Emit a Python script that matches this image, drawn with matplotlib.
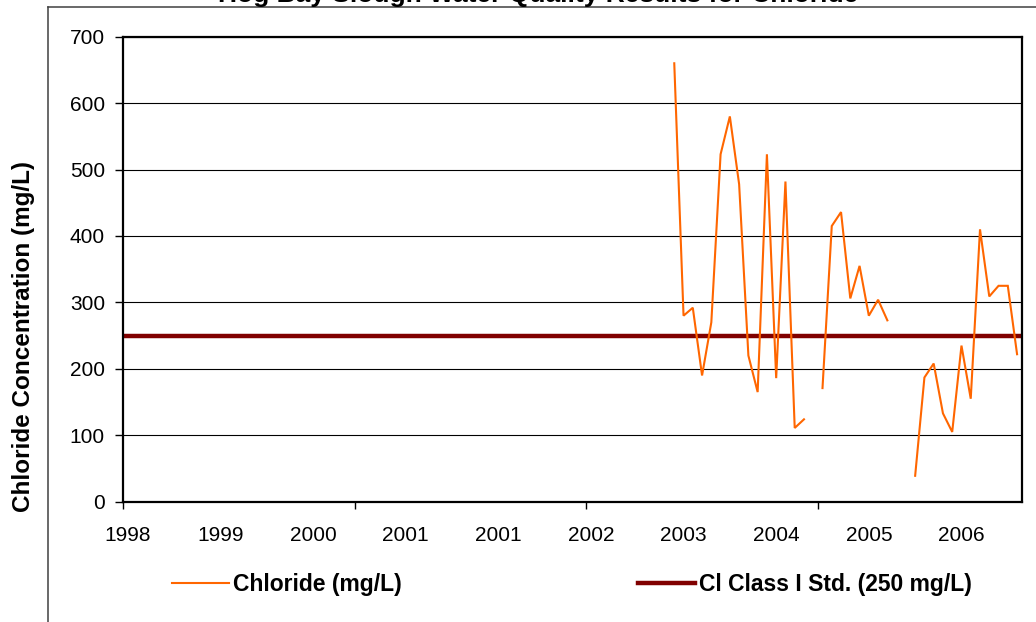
import numpy as np
import matplotlib
matplotlib.use("Agg")
import matplotlib.pyplot as plt
from matplotlib.lines import Line2D

plt.rcParams["font.family"] = ["Liberation Sans", "DejaVu Sans"]

# Sampling events on a category axis (one slot per event, 97 slots total)
n_categories = 97
first_sample = 59
chloride = [660, 280, 292, 190, 270, 523, 580, 478, 220, 165, 523, 186,
            482, 111, 124, None, 171, 415, 436, 306, 355, 280, 304, 273,
            None, None, 39, 187, 208, 133, 105, 235, 155, 410, 309, 325,
            325, 222]
class_i_std = 250

year_labels = ["1998", "1999", "2000", "2001", "2001", "2002", "2003",
               "2004", "2005", "2006"]
label_every = 10
tick_every = 25

chloride = np.array([np.nan if v is None else v for v in chloride], dtype=float)
sample_x = np.arange(first_sample, first_sample + len(chloride))

W, H = 1036, 622
fig = plt.figure(figsize=(W / 100, H / 100), dpi=100)
ax = fig.add_axes([123 / W, 1 - 501.7 / H, 898.7 / W, 465 / H])

ax.plot(sample_x, chloride, color="#FF6600", lw=1.5, label="Chloride (mg/L)",
        solid_joinstyle="miter", zorder=3)
ax.axhline(class_i_std, color="#800000", lw=3.2,
           label="Cl Class I Std. (250 mg/L)", zorder=2)

ax.set_xlim(-0.5, n_categories - 0.5)
ax.set_ylim(0, 700)
ax.set_yticks(np.arange(0, 701, 100))
ax.yaxis.grid(True, color="black", lw=0.8)
ax.set_axisbelow(True)

# year labels sit on every 10th category, tick marks fall between categories
ax.set_xticks(np.arange(len(year_labels)) * label_every)
ax.set_xticklabels(year_labels)
ax.set_xticks(np.arange(-0.5, n_categories, tick_every), minor=True)
ax.tick_params(axis="x", which="major", length=0, pad=17.5, labelsize=15)
ax.tick_params(axis="x", which="minor", length=5, width=1, direction="out")
ax.tick_params(axis="y", length=6, width=1, pad=7, labelsize=15)

for s in ax.spines.values():
    s.set_linewidth(1.6)
    s.set_color("black")

fig.text(24 / W, 1 - 337 / H, "Chloride Concentration (mg/L)", rotation=90,
         ha="center", va="center", fontsize=17.5, fontweight="bold")

fig.text(538 / W, 1 - 2 / H, "Hog Bay Slough Water Quality Results for Chloride",
         ha="center", va="baseline", fontsize=19, fontweight="bold")

ax.legend(loc="center", bbox_to_anchor=(572 / W, 1 - 585 / H),
          bbox_transform=fig.transFigure, ncol=2, frameon=False,
          prop={"size": 16.5, "weight": "bold"}, handlelength=2.5,
          handletextpad=0.17, columnspacing=10.3)

# outer chart frame (runs off the right and bottom edges)
fig.add_artist(Line2D([48 / W, 48 / W], [0, 1 - 6.7 / H],
                      transform=fig.transFigure, color="#404040", lw=1.1))
fig.add_artist(Line2D([48 / W, 1], [1 - 6.7 / H, 1 - 6.7 / H],
                      transform=fig.transFigure, color="#404040", lw=1.1))

fig.savefig("out.png", dpi=100)
